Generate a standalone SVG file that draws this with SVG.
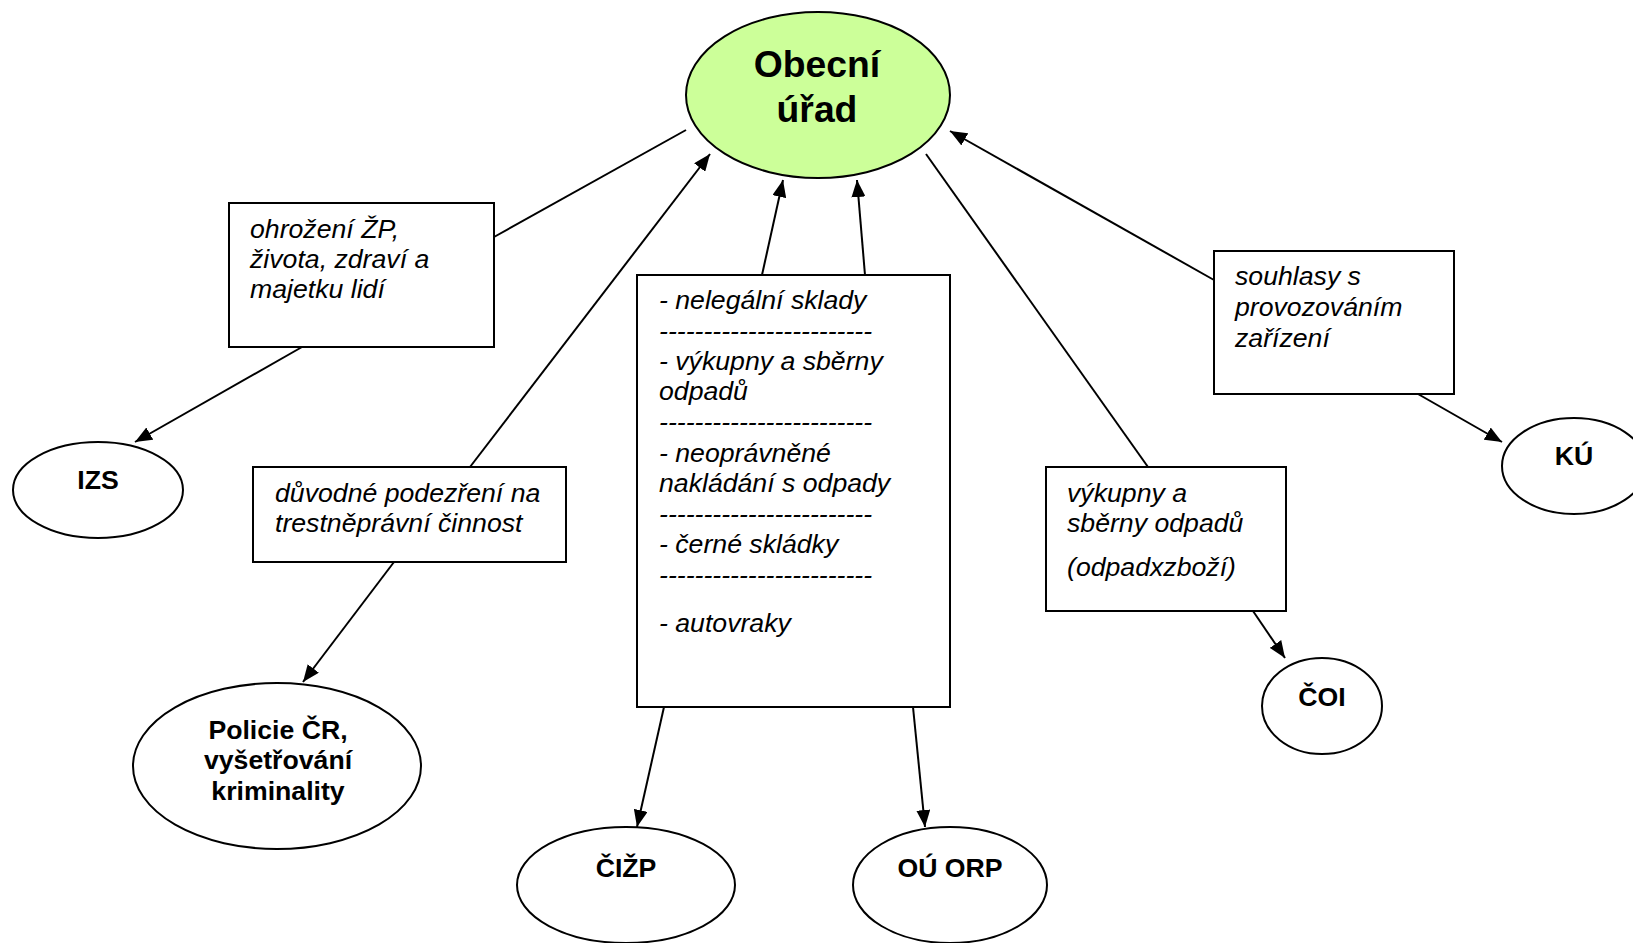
<svg xmlns="http://www.w3.org/2000/svg" width="1633" height="943" viewBox="0 0 1633 943">
<style>
.bg{fill:#fff}
.node{fill:#fff;stroke:#000;stroke-width:2}
.main{fill:#ccff99;stroke:#000;stroke-width:2}
.lbl{font-family:"Liberation Sans",Arial,sans-serif;font-weight:bold;font-size:26.67px;text-anchor:middle;fill:#000}
.big{font-size:37.3px}
.txt{font-family:"Liberation Sans",Arial,sans-serif;font-style:italic;font-size:26.67px;fill:#000}
.edge{stroke:#000;stroke-width:2;fill:none}
.arr{marker-end:url(#ah)}
</style>
<defs>
<marker id="ah" viewBox="0 0 17 14" refX="17" refY="7" markerWidth="17" markerHeight="14" markerUnits="userSpaceOnUse" orient="auto">
<path d="M0,0 L17,7 L0,14 z" fill="#000"/>
</marker>
</defs>
<rect class="bg" x="0" y="0" width="1633" height="943"/>
<g id="connectors">
<line class="edge" x1="494" y1="237" x2="686" y2="130"/>
<line class="edge arr" x1="302" y1="347" x2="135" y2="442"/>
<line class="edge arr" x1="470" y1="467" x2="710" y2="154"/>
<line class="edge arr" x1="394" y1="562" x2="303" y2="682"/>
<line class="edge arr" x1="762" y1="275" x2="783" y2="180"/>
<line class="edge arr" x1="865" y1="275" x2="857" y2="180"/>
<line class="edge arr" x1="664" y1="707" x2="637" y2="827"/>
<line class="edge arr" x1="913" y1="707" x2="925" y2="827"/>
<line class="edge" x1="926" y1="154" x2="1148" y2="467"/>
<line class="edge arr" x1="1253" y1="611" x2="1285" y2="658"/>
<line class="edge arr" x1="1214" y1="280" x2="950" y2="131"/>
<line class="edge arr" x1="1418" y1="394" x2="1502" y2="442"/>
</g>
<g id="obecni-urad">
<ellipse class="main" cx="818" cy="95" rx="132" ry="83"/>
<text class="lbl big" x="817" y="77">Obecní</text>
<text class="lbl big" x="817" y="122">úřad</text>
</g>
<g id="box-ohrozeni">
<rect class="node" x="229" y="203" width="265" height="144"/>
<text class="txt" x="250" y="238">ohrožení ŽP,</text>
<text class="txt" x="250" y="268">života, zdraví a</text>
<text class="txt" x="250" y="298">majetku lidí</text>
</g>
<g id="izs">
<ellipse class="node" cx="98" cy="490" rx="85" ry="48"/>
<text class="lbl" x="98" y="489">IZS</text>
</g>
<g id="box-duvodne">
<rect class="node" x="253" y="467" width="313" height="95"/>
<text class="txt" x="275" y="502">důvodné podezření na</text>
<text class="txt" x="275" y="532">trestněprávní činnost</text>
</g>
<g id="policie">
<ellipse class="node" cx="277" cy="766" rx="144" ry="83"/>
<text class="lbl" x="278" y="739">Policie ČR,</text>
<text class="lbl" x="278" y="769">vyšetřování</text>
<text class="lbl" x="278" y="800">kriminality</text>
</g>
<g id="box-center">
<rect class="node" x="637" y="275" width="313" height="432"/>
<text class="txt" x="659" y="309">- nelegální sklady</text>
<text class="txt" x="659" y="340">------------------------</text>
<text class="txt" x="659" y="370">- výkupny a sběrny</text>
<text class="txt" x="659" y="400">odpadů</text>
<text class="txt" x="659" y="431">------------------------</text>
<text class="txt" x="659" y="462">- neoprávněné</text>
<text class="txt" x="659" y="492">nakládání s odpady</text>
<text class="txt" x="659" y="523">------------------------</text>
<text class="txt" x="659" y="553">- černé skládky</text>
<text class="txt" x="659" y="584">------------------------</text>
<text class="txt" x="659" y="632">- autovraky</text>
</g>
<g id="cizp">
<ellipse class="node" cx="626" cy="885" rx="109" ry="58"/>
<text class="lbl" x="626" y="877">ČIŽP</text>
</g>
<g id="ou-orp">
<ellipse class="node" cx="950" cy="885" rx="97" ry="58"/>
<text class="lbl" x="950" y="877">OÚ ORP</text>
</g>
<g id="box-vykupny">
<rect class="node" x="1046" y="467" width="240" height="144"/>
<text class="txt" x="1067" y="502">výkupny a</text>
<text class="txt" x="1067" y="532">sběrny odpadů</text>
<text class="txt" x="1067" y="576">(odpadxzboží)</text>
</g>
<g id="coi">
<ellipse class="node" cx="1322" cy="706" rx="60" ry="48"/>
<text class="lbl" x="1322" y="706">ČOI</text>
</g>
<g id="box-souhlasy">
<rect class="node" x="1214" y="251" width="240" height="143"/>
<text class="txt" x="1235" y="285">souhlasy s</text>
<text class="txt" x="1235" y="316">provozováním</text>
<text class="txt" x="1235" y="347">zařízení</text>
</g>
<g id="ku">
<ellipse class="node" cx="1574" cy="466" rx="72" ry="48"/>
<text class="lbl" x="1574" y="465">KÚ</text>
</g>
</svg>
